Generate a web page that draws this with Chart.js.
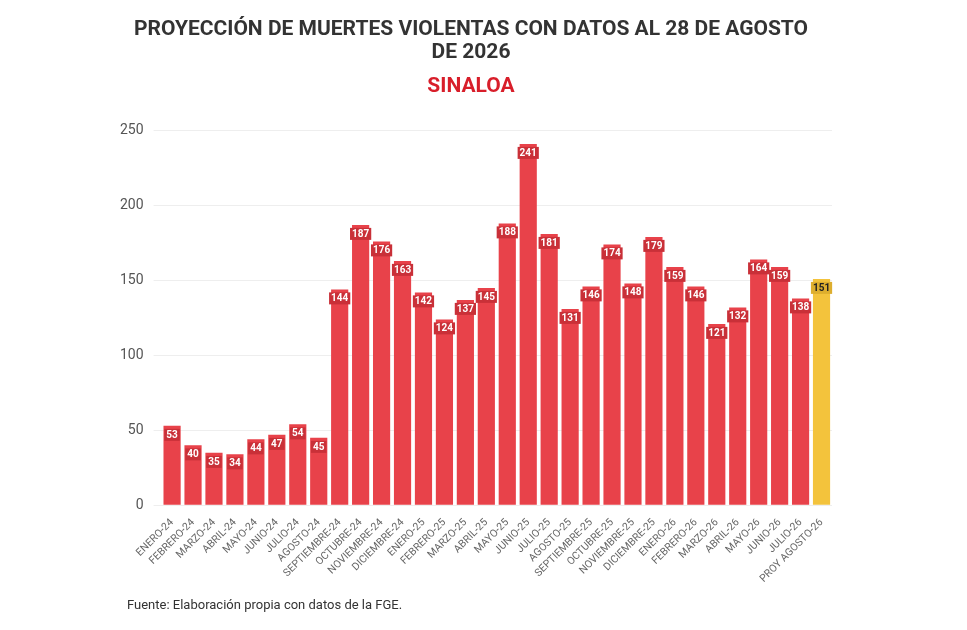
<!DOCTYPE html>
<html>
<head>
<meta charset="utf-8">
<script src="https://cdn.jsdelivr.net/npm/chart.js@4"></script>
<style>
  html, body { margin: 0; padding: 0; background: #fff; }
  #wrap { position: relative; width: 967px; height: 630px; }
  #fuente { position: absolute; left: 127px; top: 597px; font: 13px Roboto, sans-serif; color: #333; }
</style>
</head>
<body>
<div id="wrap">
  <canvas id="muertesChart" width="967" height="630"></canvas>
  <div id="fuente">Fuente: Elaboración propia con datos de la FGE.</div>
</div>
<script>
  const meses = ['ENERO-24', 'FEBRERO-24', 'MARZO-24', 'ABRIL-24', 'MAYO-24', 'JUNIO-24', 'JULIO-24', 'AGOSTO-24',
    'SEPTIEMBRE-24', 'OCTUBRE-24', 'NOVIEMBRE-24', 'DICIEMBRE-24', 'ENERO-25', 'FEBRERO-25', 'MARZO-25', 'ABRIL-25',
    'MAYO-25', 'JUNIO-25', 'JULIO-25', 'AGOSTO-25', 'SEPTIEMBRE-25', 'OCTUBRE-25', 'NOVIEMBRE-25', 'DICIEMBRE-25',
    'ENERO-26', 'FEBRERO-26', 'MARZO-26', 'ABRIL-26', 'MAYO-26', 'JUNIO-26', 'JULIO-26', 'PROY AGOSTO-26'];
  const muertes = [53, 40, 35, 34, 44, 47, 54, 45, 144, 187, 176, 163, 142, 124, 137, 145,
    188, 241, 181, 131, 146, 174, 148, 179, 159, 146, 121, 132, 164, 159, 138, 151];
  const yTicks = [0, 50, 100, 150, 200, 250];

  const rojo = '#E8424A';
  const amarillo = '#F3C33C';
  const ultimo = muertes.length - 1;

  // white value label sitting inside the top of each bar
  const valueLabels = {
    id: 'valueLabels',
    afterDatasetsDraw(chart) {
      const ctx = chart.ctx;
      const meta = chart.getDatasetMeta(0);
      ctx.save();
      ctx.font = 'bold 10px Roboto, sans-serif';
      ctx.textAlign = 'center';
      ctx.textBaseline = 'middle';
      meta.data.forEach((bar, i) => {
        const txt = String(muertes[i]);
        const w = ctx.measureText(txt).width + 4;
        const y = bar.y + 9;
        ctx.fillStyle = i === ultimo ? '#DDAE2E' : '#C93038';
        ctx.fillRect(bar.x - w / 2, y - 6, w, 12);
        ctx.fillStyle = i === ultimo ? '#222' : '#fff';
        ctx.fillText(txt, bar.x, y + 0.5);
      });
      ctx.restore();
    }
  };

  new Chart(document.getElementById('muertesChart').getContext('2d'), {
    type: 'bar',
    data: {
      labels: meses,
      datasets: [{
        data: muertes,
        backgroundColor: muertes.map((v, i) => i === ultimo ? amarillo : rojo),
        barPercentage: 0.82,
        categoryPercentage: 1
      }]
    },
    options: {
      responsive: false,
      animation: false,
      layout: { padding: { left: 110, right: 135, top: 0, bottom: 42 } },
      plugins: {
        legend: { display: false },
        tooltip: { enabled: false },
        title: {
          display: true,
          text: ['PROYECCIÓN DE MUERTES VIOLENTAS CON DATOS AL 28 DE AGOSTO', 'DE 2026'],
          color: '#333',
          font: { family: 'Roboto', size: 21, weight: 'bold', lineHeight: 1.1 },
          padding: { top: 18, bottom: 6 }
        },
        subtitle: {
          display: true,
          text: 'SINALOA',
          color: '#D81E2A',
          font: { family: 'Roboto', size: 21, weight: 'bold' },
          padding: { top: 4, bottom: 31 }
        }
      },
      scales: {
        x: {
          grid: { display: false },
          border: { display: false },
          ticks: {
            color: '#666',
            font: { family: 'Roboto', size: 10.5 },
            maxRotation: 45,
            minRotation: 45,
            autoSkip: false
          }
        },
        y: {
          min: 0,
          max: 250,
          afterBuildTicks(axis) { axis.ticks = yTicks.map(v => ({ value: v })); },
          grid: { color: '#EEEEEE' },
          border: { display: false },
          ticks: { color: '#555', font: { family: 'Roboto', size: 14 }, padding: 10 }
        }
      }
    },
    plugins: [valueLabels]
  });
</script>
</body>
</html>
